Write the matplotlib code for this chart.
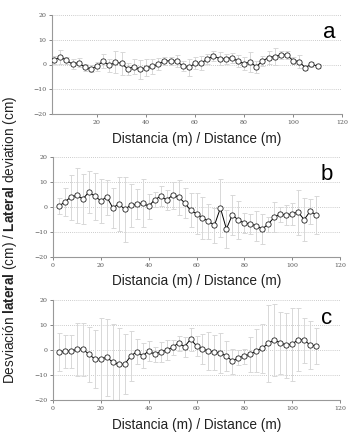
import matplotlib
matplotlib.use("Agg")
import matplotlib.pyplot as plt
import numpy as np

plt.rcParams['font.family'] = ['Liberation Sans', 'DejaVu Sans']
plt.rcParams['mathtext.fontset'] = 'custom'
plt.rcParams['mathtext.rm'] = 'Liberation Sans'
plt.rcParams['mathtext.bf'] = 'Liberation Sans:bold'

# distance (m)
dist = [2.5, 5, 7.5, 10, 12.5, 15, 17.5, 20, 22.5, 25, 27.5, 30, 32.5, 35, 37.5,
        40, 42.5, 45, 47.5, 50, 52.5, 55, 57.5, 60, 62.5, 65, 67.5, 70, 72.5, 75,
        77.5, 80, 82.5, 85, 87.5, 90, 92.5, 95, 97.5, 100, 102.5, 105, 107.5, 110]

dev_a = [1.8, 3.0, 1.7, 0.1, 0.8, -1.2, -1.7, -0.7, 1.4, -0.4, 0.9, 0.5, -1.8, -0.9, -2.0,
         -1.3, -0.8, 0.1, 1.4, 1.5, 1.4, -0.6, -1.2, 0.5, 0.5, 2.2, 3.4, 2.4, 2.2, 2.8,
         1.3, 0.4, 1.0, -0.9, 1.4, 2.8, 3.2, 3.9, 3.9, 1.6, 1.2, -1.3, 0.1, -0.6]
err_a = [1.5, 2.8, 1.5, 2.0, 1.8, 1.5, 1.5, 1.8, 3.0, 2.5, 4.5, 4.7, 2.5, 3.0, 3.7,
         3.5, 3.0, 2.5, 1.5, 1.5, 2.5, 2.0, 3.4, 2.5, 2.8, 2.0, 2.0, 2.5, 2.0, 2.0,
         2.5, 2.5, 4.0, 2.5, 2.0, 2.5, 3.6, 1.5, 1.5, 1.5, 2.5, 1.0, 1.0, 1.0]

dev_b = [0.3, 2.1, 4.0, 4.7, 3.2, 6.0, 4.3, 2.5, 4.0, -0.3, 1.2, -0.9, 0.7, 1.1, 1.6,
         0.3, 2.9, 4.3, 2.8, 4.7, 4.0, 1.7, -1.3, -2.7, -4.3, -5.7, -7.3, -0.4, -8.8, -3.1,
         -5.3, -6.4, -6.8, -7.5, -8.8, -6.8, -4.1, -2.8, -3.3, -2.7, -2.0, -5.1, -1.7, -3.1]
err_b = [3.2, 5.5, 9.0, 11.0, 10.0, 8.5, 9.5, 8.7, 7.0, 8.0, 10.8, 13.0, 8.5, 6.0, 9.6,
         5.0, 3.0, 4.0, 4.0, 5.5, 7.0, 6.0, 6.8, 8.2, 8.3, 7.0, 7.0, 11.6, 7.6, 8.0,
         7.6, 4.0, 4.0, 6.0, 6.0, 3.0, 6.0, 3.0, 4.0, 4.3, 9.0, 8.6, 5.0, 7.6]

dev_c = [-0.9, -0.5, -0.5, 0.3, 0.4, -1.7, -3.6, -3.6, -2.9, -4.9, -5.7, -5.7, -2.4, -0.7, -2.3,
         -0.4, -1.7, -0.7, -0.1, 1.1, 2.8, 1.3, 4.3, 1.7, 0.4, -0.4, -0.8, -1.3, -2.4, -4.5,
         -3.1, -2.4, -1.7, -0.3, 0.7, 2.7, 4.0, 2.9, 2.0, 2.4, 4.1, 4.0, 2.0, 1.6]
err_c = [7.6, 6.5, 6.5, 10.5, 10.6, 11.0, 11.6, 16.5, 15.5, 15.5, 14.5, 12.0, 10.0, 5.0, 5.0,
         4.0, 3.0, 4.0, 4.0, 3.0, 3.0, 4.0, 4.6, 4.0, 6.0, 7.5, 7.0, 8.0, 6.0, 5.0,
         3.0, 3.0, 7.0, 8.6, 9.8, 15.3, 14.3, 12.5, 13.0, 14.6, 12.6, 9.0, 9.5, 7.3]

panels = [
    ('a', dev_a, err_a, [52, 15, 290, 99], (1.6, 120), [20, 40, 60, 80, 100, 120]),
    ('b', dev_b, err_b, [53, 157, 287, 100], (0, 120), [0, 20, 40, 60, 80, 100, 120]),
    ('c', dev_c, err_c, [53, 300, 287, 100], (0, 120), [0, 20, 40, 60, 80, 100, 120]),
]

W, H = 350, 434
fig = plt.figure(figsize=(W / 100, H / 100), dpi=100)
fig.set_facecolor('white')

for letter, dev, err, (px, py, pw, ph), xlim, xt in panels:
    ax = fig.add_axes([px / W, 1 - (py + ph) / H, pw / W, ph / H])
    ax.errorbar(dist, dev, yerr=err, fmt='none', ecolor='#d8d8d8', elinewidth=0.7,
                capsize=1.8, capthick=0.7, zorder=2)
    ax.plot(dist, dev, color='black', linewidth=0.7, marker='o', markersize=3.8,
            markerfacecolor='white', markeredgecolor='#222222', markeredgewidth=0.6, zorder=3)
    ax.set_xlim(*xlim)
    ax.set_ylim(-20, 20)
    ax.set_xticks(xt)
    ax.set_yticks([-20, -10, 0, 10, 20])
    for y in [-10, 0, 10, 20]:
        ax.axhline(y, color='#bbbbbb', linewidth=0.6, linestyle=(0, (1, 1.5)), zorder=1)
    for s in ['top', 'right']:
        ax.spines[s].set_visible(False)
    for s in ['left', 'bottom']:
        ax.spines[s].set_color('#999999')
        ax.spines[s].set_linewidth(0.8)
    ax.tick_params(axis='both', labelsize=4.5, colors='#555555', length=2, width=0.5, pad=2)
    for lab in ax.get_xticklabels() + ax.get_yticklabels():
        lab.set_family('DejaVu Serif')
    ax.set_xlabel('Distancia (m) / Distance (m)', fontsize=9.8, color='#222222', labelpad=5)
    ax.text(0.955, 0.82, letter, transform=ax.transAxes, fontsize=16, color='black',
            ha='center', va='center')

fig.text(10 / W, 1 - 240 / H,
         r'Desviación $\mathbf{lateral}$ (cm) / $\mathbf{Lateral}$ deviation (cm)',
         rotation=90, fontsize=9.8, color='#222222', ha='center', va='center')

fig.savefig('out.png', dpi=100)
